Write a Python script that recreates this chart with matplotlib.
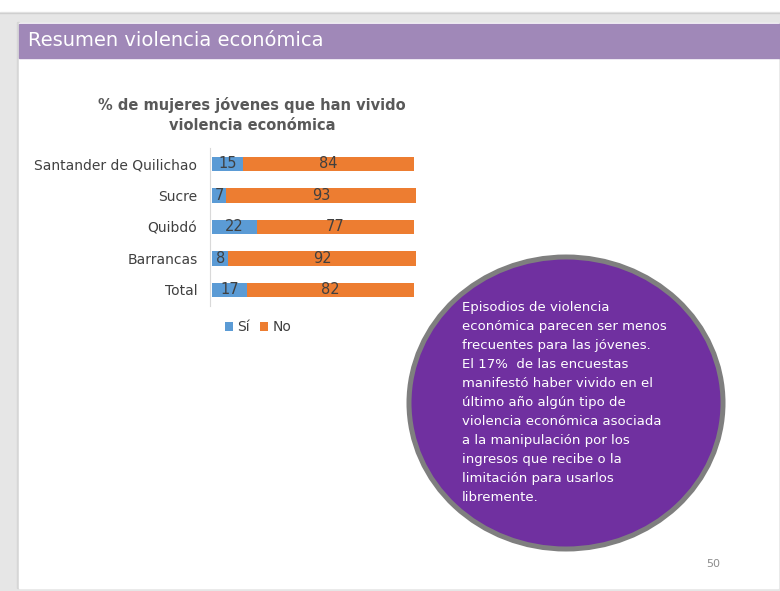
import matplotlib
matplotlib.use("Agg")
import matplotlib.pyplot as plt
from matplotlib.patches import Rectangle, Ellipse

# data
categories = ["Santander de Quilichao", "Sucre", "Quibdó", "Barrancas", "Total"]
si = [15, 7, 22, 8, 17]
no = [84, 93, 77, 92, 82]

slide_title = "Resumen violencia económica"
chart_title = "% de mujeres jóvenes que han vivido\nviolencia económica"
note = ("Episodios de violencia\n"
        "económica parecen ser menos\n"
        "frecuentes para las jóvenes.\n"
        "El 17%  de las encuestas\n"
        "manifestó haber vivido en el\n"
        "último año algún tipo de\n"
        "violencia económica asociada\n"
        "a la manipulación por los\n"
        "ingresos que recibe o la\n"
        "limitación para usarlos\n"
        "libremente.")
page_no = "50"

BLUE = "#5b9bd5"
ORANGE = "#ed7d31"
PURPLE = "#7030a0"
HEADER = "#a088b8"
TXT = "#404040"

plt.rcParams["font.family"] = ["DejaVu Sans"]

W, H = 780, 591
fig = plt.figure(figsize=(W / 100, H / 100), dpi=100)
fig.patch.set_facecolor("white")

# background / slide frame, in pixel coords
bg = fig.add_axes([0, 0, 1, 1])
bg.set_xlim(0, W)
bg.set_ylim(H, 0)
bg.axis("off")
bg.add_patch(Rectangle((0, 12), W, H - 12, color="#e6e6e6", zorder=0))
bg.plot([0, W], [12.5, 12.5], color="#cfcfcf", lw=1, zorder=1)
bg.add_patch(Rectangle((17, 22), 2, 566, color="#d6d6d6", zorder=1))
bg.add_patch(Rectangle((19, 23), 759, 565, color="white", zorder=1))
bg.add_patch(Rectangle((19, 24), 761, 34, color=HEADER, zorder=2))
bg.text(28, 41, slide_title, color="white", fontsize=14,
        va="center", ha="left", zorder=3)

bg.text(252, 115, chart_title, color="#595959", fontsize=10.5,
        fontweight="bold", ha="center", va="center", linespacing=1.45, zorder=3)

# callout ellipse
bg.add_patch(Ellipse((566, 403), 314, 292, facecolor=PURPLE,
                     edgecolor="#7f7f7f", lw=3.6, zorder=3))
bg.text(462, 301, note, color="white", fontsize=9.5, ha="left", va="top",
        linespacing=1.6, zorder=4)

bg.text(713, 564, page_no, color="#8c8c8c", fontsize=8, ha="center",
        va="center", zorder=3)

# bar chart
x0, x1 = 212, 416
y_top, y_bot = 148.25, 305.75
ax = fig.add_axes([x0 / W, 1 - y_bot / H, (x1 - x0) / W, (y_bot - y_top) / H])
ax.set_zorder(5)
ax.patch.set_alpha(0)
ypos = list(range(len(categories)))
b1 = ax.barh(ypos, si, height=0.45, color=BLUE, label="Sí")
b2 = ax.barh(ypos, no, left=si, height=0.45, color=ORANGE, label="No")
ax.bar_label(b1, label_type="center", color=TXT, fontsize=10.5)
ax.bar_label(b2, label_type="center", color=TXT, fontsize=10.5)
ax.set_xlim(0, 100)
ax.set_ylim(len(categories) - 0.5, -0.5)
ax.set_yticks(ypos)
ax.set_yticklabels(categories, fontsize=8.8)
ax.tick_params(axis="y", length=0, pad=9, labelcolor=TXT)
ax.set_xticks([])
for s in ("top", "right", "bottom"):
    ax.spines[s].set_visible(False)
ax.spines["left"].set_color("#d9d9d9")
ax.spines["left"].set_position(("data", -1))

fig.legend(handles=[b1, b2], labels=["Sí", "No"], loc="center",
           bbox_to_anchor=(258 / W, 1 - 327 / H), ncol=2, frameon=False,
           handlelength=0.6, handleheight=0.6, handletextpad=0.3,
           columnspacing=0.7, fontsize=10, labelcolor=TXT)

fig.savefig("out.png", dpi=100)
